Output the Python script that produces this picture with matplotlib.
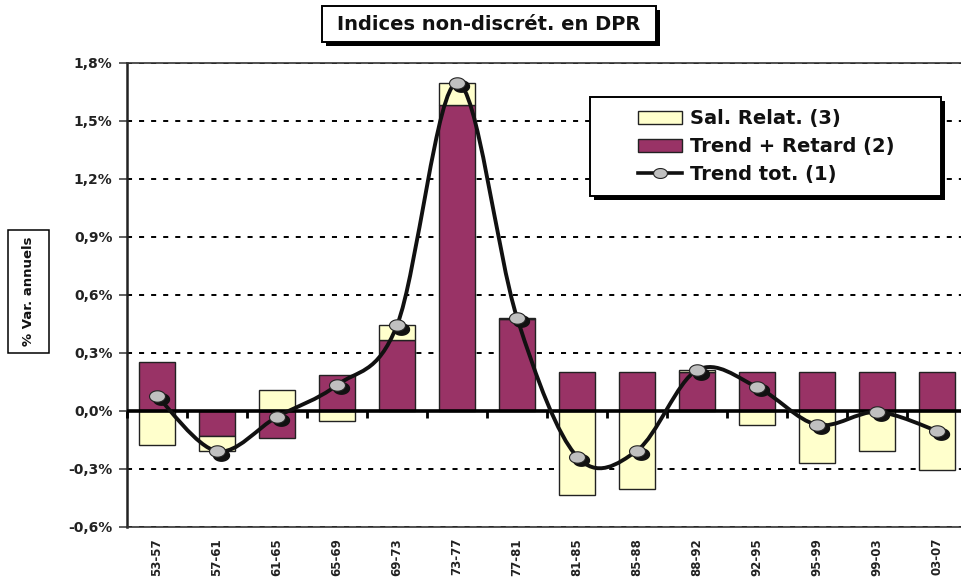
import numpy as np
import matplotlib
matplotlib.use("Agg")
import matplotlib.pyplot as plt
from matplotlib.path import Path
from matplotlib.patches import PathPatch, Rectangle, Patch
from matplotlib.lines import Line2D
from matplotlib.transforms import offset_copy
import matplotlib.patheffects as pe

# ---------------- data ----------------
categories = ["53-57", "57-61", "61-65", "65-69", "69-73", "73-77", "77-81",
              "81-85", "85-88", "88-92", "92-95", "95-99", "99-03", "03-07"]
trend_retard = [0.253, -0.129, -0.138, 0.188, 0.367, 1.581, 0.475,
                0.202, 0.202, 0.202, 0.202, 0.202, 0.202, 0.202]
sal_relat = [-0.174, -0.079, 0.110, -0.052, 0.078, 0.113, 0.008,
             -0.436, -0.405, 0.010, -0.074, -0.271, -0.208, -0.305]
trend_tot = [0.078, -0.208, -0.030, 0.134, 0.443, 1.697, 0.483,
             -0.236, -0.205, 0.211, 0.124, -0.071, -0.005, -0.103]
y_ticks = [-0.6, -0.3, 0.0, 0.3, 0.6, 0.9, 1.2, 1.5, 1.8]

title = "Indices non-discrét. en DPR"
ylabel = "% Var. annuels"
legend_labels = ["Sal. Relat. (3)", "Trend + Retard (2)", "Trend tot. (1)"]

PURPLE = "#993366"
YELLOW = "#FFFFCC"
GRAY = "#C0C0C0"

plt.rcParams['font.family'] = ['DejaVu Sans']

W, H = 962, 584
fig = plt.figure(figsize=(W / 100, H / 100), dpi=100)
fig.patch.set_facecolor("white")

def fx(px):
    return px / W

def fy(py):
    return 1 - py / H

ax = fig.add_axes([fx(127), fy(527), fx(967) - fx(127), fy(63) - fy(527)])

x = np.arange(len(categories))
tr = np.array(trend_retard)
sr = np.array(sal_relat)
tt = np.array(trend_tot)

# stacked bars (positive and negative stacks separately)
ax.bar(x, tr, width=0.6, color=PURPLE, edgecolor="#222222", linewidth=1.0, zorder=2)
sr_bottom = np.where(np.sign(sr) == np.sign(tr), tr, 0.0)
ax.bar(x, sr, bottom=sr_bottom, width=0.6, color=YELLOW, edgecolor="#222222",
       linewidth=1.0, zorder=2)

# zero axis line with category boundary ticks
ax.axhline(0, color="black", lw=2.6, zorder=3.5)
bounds = np.arange(len(categories) + 1) - 0.5
ax.plot(bounds, np.zeros_like(bounds), ls="none", marker=3, ms=5, mew=2,
        color="black", zorder=3.5, clip_on=False)

# smoothed line (Catmull-Rom as cubic Bezier, in data coordinates)
pts = np.column_stack([x, tt]).astype(float)
ext = np.vstack([pts[0], pts, pts[-1]])
verts = [tuple(pts[0])]
codes = [Path.MOVETO]
for i in range(len(pts) - 1):
    p0, p1, p2, p3 = ext[i], ext[i + 1], ext[i + 2], ext[i + 3]
    c1 = p1 + (p2 - p0) / 6.0
    c2 = p2 - (p3 - p1) / 6.0
    verts += [tuple(c1), tuple(c2), tuple(p2)]
    codes += [Path.CURVE4] * 3
ax.add_patch(PathPatch(Path(verts, codes), facecolor="none", edgecolor="#111111",
                       lw=2.8, zorder=4, capstyle="round", joinstyle="round"))

# elliptical markers with black drop shadow
t = np.linspace(0, 2 * np.pi, 60)
ell = np.column_stack([1.4 * np.cos(t), np.sin(t)])
shadow_tr = offset_copy(ax.transData, fig=fig, x=3.2, y=-2.4, units="points")
ax.plot(x, tt, ls="none", marker=ell, ms=11.5, mfc="#111111", mec="#111111",
        transform=shadow_tr, zorder=5)
ax.plot(x, tt, ls="none", marker=ell, ms=11.5, mfc=GRAY, mec="#222222", mew=0.8,
        zorder=6)

# axes styling
ax.set_xlim(-0.5, len(categories) - 0.5)
ax.set_ylim(y_ticks[0], y_ticks[-1])
ax.set_yticks(y_ticks)
ax.set_yticklabels([f"{v:.1f}%".replace(".", ",") for v in y_ticks],
                   fontsize=10, fontweight="bold", color="#222222")
ax.tick_params(axis="y", length=5.5, width=1.2, color="#444444", pad=5)
ax.set_xticks(x)
ax.set_xticklabels(categories, rotation=90, fontsize=8.5, fontweight="bold",
                   color="#222222", va="top")
ax.tick_params(axis="x", length=0, pad=8)

ax.set_axisbelow(True)
ax.yaxis.grid(True, color="black", lw=1.4, ls=(0, (2.6, 3.6)))
ax.xaxis.grid(False)
for side in ["top", "bottom"]:
    ax.spines[side].set_color("#333333")
    ax.spines[side].set_linewidth(1.2)
ax.spines["left"].set_color("#222222")
ax.spines["left"].set_linewidth(1.8)
ax.spines["right"].set_visible(False)

# ---------------- boxes: title, y-label, legend ----------------
def fig_box(x0, y0, x1, y1, shadow=True, lw=1.4):
    r = Rectangle((fx(x0), fy(y1)), fx(x1) - fx(x0), fy(y0) - fy(y1),
                  transform=fig.transFigure, facecolor="white", edgecolor="black",
                  lw=lw, zorder=10)
    if shadow:
        r.set_path_effects([pe.SimplePatchShadow(offset=(2.6, -2.6),
                                                  shadow_rgbFace="black", alpha=1.0),
                            pe.Normal()])
    fig.patches.append(r)

fig_box(322, 6, 656, 42)
fig.text(fx(489), fy(24.5), title, fontsize=14, fontweight="bold", ha="center",
         va="center", color="#111111", zorder=11)

fig_box(8, 230, 49, 353, shadow=False, lw=1.1)
fig.text(fx(28.5), fy(291.5), ylabel, fontsize=9.5, fontweight="bold", rotation=90,
         ha="center", va="center", color="#111111", zorder=11)

fig_box(590, 97, 941, 196)
handles = [Patch(facecolor=YELLOW, edgecolor="#222222", lw=1.0),
           Patch(facecolor=PURPLE, edgecolor="#222222", lw=1.0),
           Line2D([], [], color="#111111", lw=2.6, marker=ell, ms=10, mfc=GRAY,
                  mec="#222222", mew=0.8)]
leg = fig.legend(handles, legend_labels, loc="center",
                 bbox_to_anchor=(fx(766), fy(146.5)), frameon=False,
                 prop={"size": 14, "weight": "bold"}, handlelength=2.3,
                 handleheight=0.65, handletextpad=0.4, labelspacing=0.45)
leg.set_zorder(12)
for txt in leg.get_texts():
    txt.set_color("#111111")

fig.savefig("out.png", dpi=100, facecolor="white")
